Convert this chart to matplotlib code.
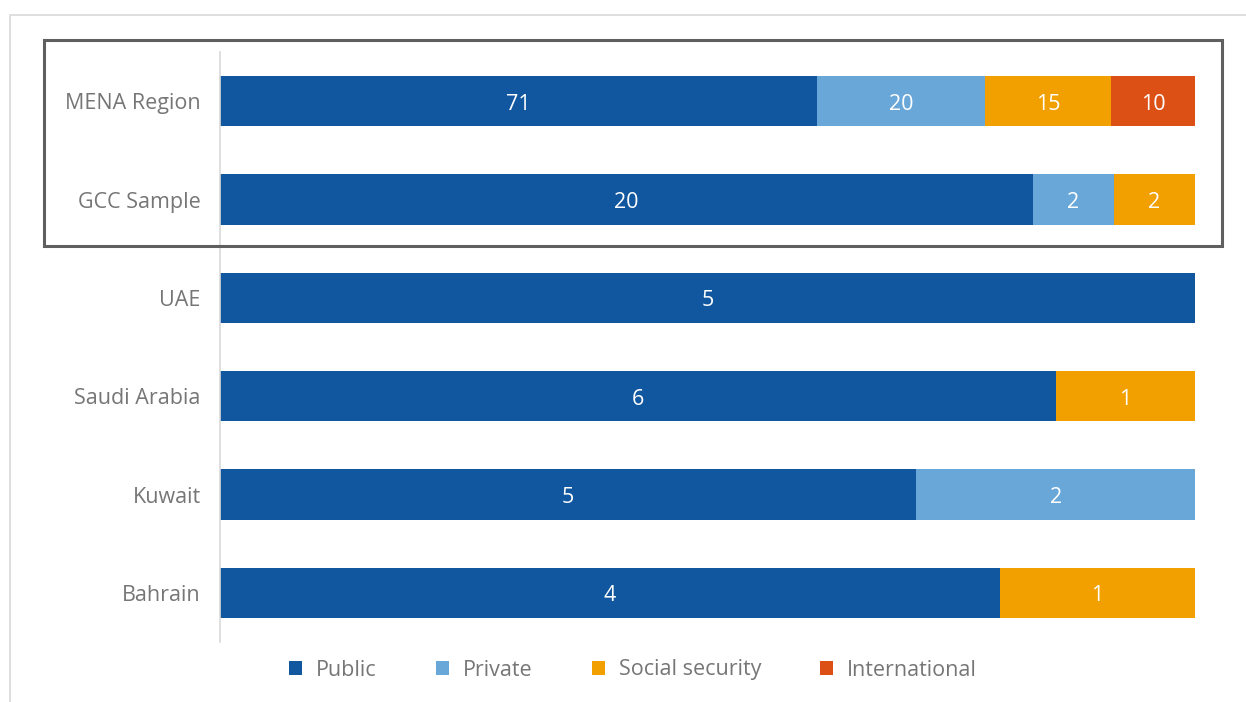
import numpy as np
import matplotlib.pyplot as plt
from matplotlib.patches import Rectangle

plt.rcParams['font.family'] = ['Open Sans', 'DejaVu Sans']

# data (counts per category)
categories = ["MENA Region", "GCC Sample", "UAE", "Saudi Arabia", "Kuwait", "Bahrain"]
series_names = ["Public", "Private", "Social security", "International"]
public = [71, 20, 5, 6, 5, 4]
private = [20, 2, 0, 0, 2, 0]
social_security = [15, 2, 0, 1, 0, 1]
international = [10, 0, 0, 0, 0, 0]
colors = ["#11579F", "#6AA7D9", "#F2A000", "#DC5015"]

W, H = 1246, 702
fig = plt.figure(figsize=(W / 100, H / 100), dpi=100)

# axes placed in pixel coords
left, right, top, bottom = 220, 1195, 52, 642
ax = fig.add_axes([left / W, 1 - bottom / H, (right - left) / W, (bottom - top) / H])

counts = np.array([public, private, social_security, international], dtype=float)
totals = counts.sum(axis=0)
shares = counts / totals * 100
y = np.arange(len(categories))

start = np.zeros(len(categories))
for i, name in enumerate(series_names):
    ax.barh(y, shares[i], left=start, height=0.51, color=colors[i], label=name)
    for j in range(len(categories)):
        if counts[i, j] > 0:
            ax.text(start[j] + shares[i, j] / 2, y[j] + 0.03, f"{int(counts[i, j])}",
                    ha="center", va="center", color="white", fontsize=15.5)
    start += shares[i]

ax.set_xlim(0, 100)
ax.set_ylim(len(categories) - 0.5, -0.5)
ax.set_yticks(y)
ax.set_yticklabels(categories, fontsize=15.5, color="#767676")
ax.tick_params(axis="y", length=0, pad=14)
ax.set_xticks([])
for s in ["top", "right", "bottom"]:
    ax.spines[s].set_visible(False)
ax.spines["left"].set_color("#D9D9D9")
ax.spines["left"].set_linewidth(1.2)

# legend
leg = fig.legend(loc="center", bbox_to_anchor=(633 / W, 1 - 670 / H), ncol=4,
                 frameon=False, fontsize=15.5, handlelength=0.6, handleheight=0.6,
                 columnspacing=2.75, handletextpad=0.65)
for t in leg.get_texts():
    t.set_color("#767676")

# outer light frame of the chart area
fig.patches.append(Rectangle((10 / W, -0.05), 1.1, 1 - 15 / H + 0.05,
                             transform=fig.transFigure, fill=False,
                             edgecolor="#D9D9D9", linewidth=1.2))
# highlight box around the aggregate rows
fig.patches.append(Rectangle((44 / W, 1 - 246 / H), (1222 - 44) / W, (246 - 40) / H,
                             transform=fig.transFigure, fill=False,
                             edgecolor="#5F5F5F", linewidth=2.2, zorder=5))

fig.savefig("out.png", dpi=100, facecolor="white")
